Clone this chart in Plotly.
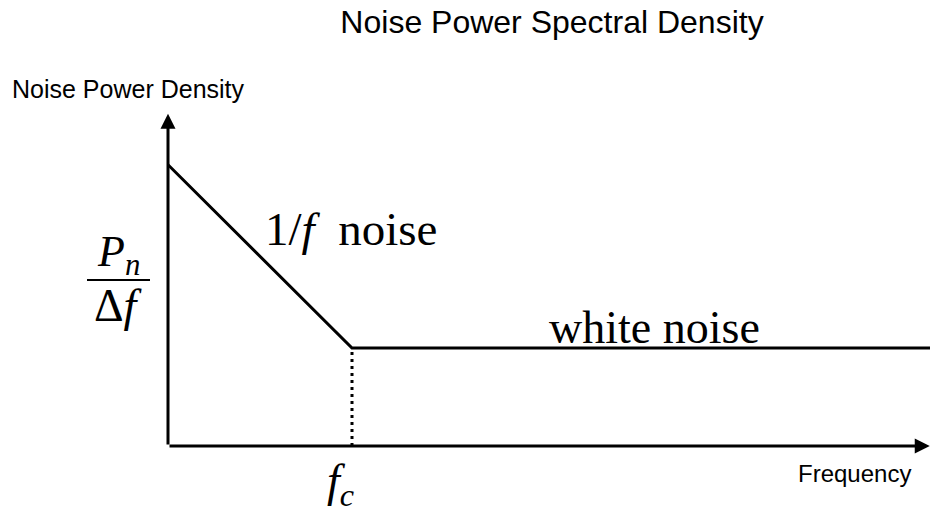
import plotly.graph_objects as go

# ---- data (frequency in units of corner frequency fc, density in units of white level)
freq = [0.0, 1.0, 4.15]          # 1/f region ends at fc, white noise continues
psd = [2.87, 1.0, 1.0]
fc_marker_x = [1.0, 1.0]
fc_marker_y = [0.0, 1.0]
axis_x_end = 4.14
axis_y_end = 3.39

W, H = 930, 512
L, R, T, B = 168, 0, 100, 66
XS, YS = 184.0, 98.0         # px per unit
PW, PH = W - L - R, H - T - B


def px(sx):
    """screen x -> paper x"""
    return (sx - L) / PW


def py(sy):
    """screen y -> paper y"""
    return (H - B - sy) / PH


fig = go.Figure()
fig.add_trace(go.Scatter(x=freq, y=psd, mode="lines",
                         line=dict(color="black", width=3), cliponaxis=False,
                         hoverinfo="skip"))
fig.add_trace(go.Scatter(x=fc_marker_x, y=fc_marker_y, mode="lines",
                         line=dict(color="black", width=3, dash="3px,4px"),
                         cliponaxis=False, hoverinfo="skip"))

serif = "Liberation Serif"
sans = "Liberation Sans"
ann = []
# axes arrows
ann.append(dict(x=0, y=axis_y_end, ax=0, ay=0, xref="x", yref="y", axref="x", ayref="y",
                showarrow=True, arrowhead=2, arrowsize=1, arrowwidth=3, arrowcolor="black", text=""))
ann.append(dict(x=axis_x_end, y=0, ax=0, ay=0, xref="x", yref="y", axref="x", ayref="y",
                showarrow=True, arrowhead=2, arrowsize=1, arrowwidth=3, arrowcolor="black", text=""))


def label(sx, sy, text, family, size, xanchor="left"):
    ann.append(dict(x=px(sx), y=py(sy), xref="paper", yref="paper", xanchor=xanchor,
                    yanchor="middle", text=text, showarrow=False,
                    font=dict(family=family, size=size, color="black")))


label(10, 89, "Noise Power Density", sans, 25)
label(913, 473, "Frequency", sans, 24, xanchor="right")
label(263, 229, "1/<i>f</i>  noise", serif, 47)
label(547, 327, "white noise", serif, 46)
label(118, 254, "<i>P</i><sub><i>n</i></sub>", serif, 44, xanchor="center")
label(118, 305, "Δ<i>f</i>", serif, 46, xanchor="center")
label(340, 484, "<i>f</i><sub><i>c</i></sub>", serif, 46, xanchor="center")

shapes = [dict(type="line", xref="paper", yref="paper", x0=px(87), x1=px(150),
               y0=py(280), y1=py(280), line=dict(color="black", width=2))]

fig.update_layout(
    width=W, height=H,
    margin=dict(l=L, r=R, t=T, b=B),
    paper_bgcolor="white", plot_bgcolor="white",
    showlegend=False,
    title=dict(text="Noise Power Spectral Density", x=552 / W, y=1 - 22 / H,
               xanchor="center", yanchor="middle",
               font=dict(family=sans, size=32, color="black")),
    xaxis=dict(range=[0, PW / XS], visible=False, fixedrange=True),
    yaxis=dict(range=[0, PH / YS], visible=False, fixedrange=True),
    annotations=ann, shapes=shapes,
)

fig.write_html("out.html",
               config={"displayModeBar": False, "staticPlot": True},
               post_script="document.body.style.margin='0';document.body.style.overflow='hidden';")
